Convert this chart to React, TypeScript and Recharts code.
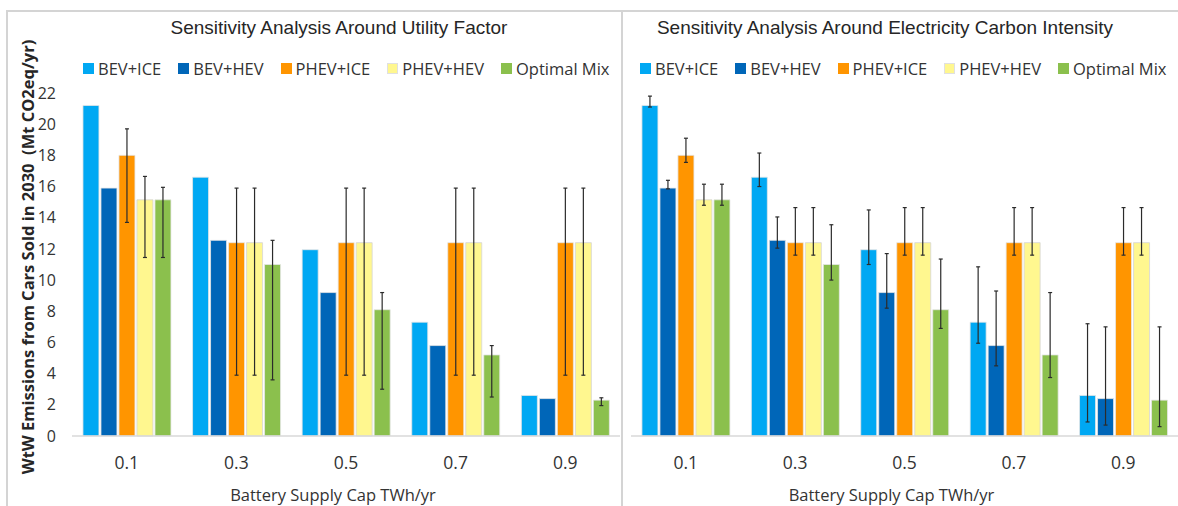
import React from "react";
import { BarChart, Bar, XAxis, YAxis, ErrorBar, Legend } from "recharts";

const categories = ["0.1", "0.3", "0.5", "0.7", "0.9"];
const yTicks = [0, 2, 4, 6, 8, 10, 12, 14, 16, 18, 20, 22];

// WtW emissions (Mt CO2eq/yr) per battery supply cap
const bevIce = [21.2, 16.6, 11.95, 7.3, 2.6];
const bevHev = [15.9, 12.55, 9.2, 5.8, 2.4];
const phevIce = [18.0, 12.4, 12.4, 12.4, 12.4];
const phevHev = [15.15, 12.4, 12.4, 12.4, 12.4];
const optimalMix = [15.15, 11.0, 8.1, 5.2, 2.3];

// utility factor ranges [low, high]
const ufPhevIce: [number, number][] = [[13.7, 19.7], [3.9, 15.9], [3.9, 15.9], [3.9, 15.9], [3.9, 15.9]];
const ufPhevHev: [number, number][] = [[11.45, 16.65], [3.9, 15.9], [3.9, 15.9], [3.9, 15.9], [3.9, 15.9]];
const ufOptimal: [number, number][] = [[11.45, 15.95], [3.6, 12.55], [3.0, 9.2], [2.5, 5.8], [1.95, 2.45]];

// electricity carbon intensity ranges [low, high]
const ciBevIce: [number, number][] = [[21.1, 21.8], [16.0, 18.15], [11.0, 14.5], [5.95, 10.85], [0.9, 7.2]];
const ciBevHev: [number, number][] = [[15.85, 16.4], [12.05, 14.05], [8.2, 11.7], [4.5, 9.3], [0.7, 7.0]];
const ciPhevIce: [number, number][] = [[17.55, 19.1], [11.6, 14.65], [11.6, 14.65], [11.6, 14.65], [11.6, 14.65]];
const ciPhevHev: [number, number][] = [[14.8, 16.15], [11.6, 14.65], [11.6, 14.65], [11.6, 14.65], [11.6, 14.65]];
const ciOptimal: [number, number][] = [[14.8, 16.15], [10.0, 13.55], [6.9, 11.35], [3.75, 9.2], [0.6, 7.0]];

const series = [
  { key: "bevIce", name: "BEV+ICE", color: "#00A8F3", values: bevIce },
  { key: "bevHev", name: "BEV+HEV", color: "#0066B8", values: bevHev },
  { key: "phevIce", name: "PHEV+ICE", color: "#FF9500", values: phevIce },
  { key: "phevHev", name: "PHEV+HEV", color: "#FFF78F", values: phevHev },
  { key: "optimal", name: "Optimal Mix", color: "#8BC04D", values: optimalMix },
];

type Ranges = Record<string, [number, number][] | undefined>;

const buildRows = (ranges: Ranges) =>
  categories.map((name, i) => {
    const row: Record<string, any> = { name };
    series.forEach((s) => {
      const v = s.values[i];
      row[s.key] = v;
      const r = ranges[s.key];
      if (r) row[s.key + "Err"] = [v - r[i][0], r[i][1] - v];
    });
    return row;
  });

const utilityRows = buildRows({ phevIce: ufPhevIce, phevHev: ufPhevHev, optimal: ufOptimal });
const carbonRows = buildRows({
  bevIce: ciBevIce,
  bevHev: ciBevHev,
  phevIce: ciPhevIce,
  phevHev: ciPhevHev,
  optimal: ciOptimal,
});

const textFont = "'Open Sans', sans-serif";
const textColor = "#333";

const renderLegend = () => (
  <div style={{ display: "flex", fontFamily: textFont, fontSize: 16.5, color: textColor, whiteSpace: "nowrap" }}>
    {series.map((s) => (
      <div key={s.key} style={{ display: "flex", alignItems: "center", marginRight: 17 }}>
        <span
          style={{
            display: "inline-block",
            width: 11,
            height: 11,
            background: s.color,
            marginRight: 4,
            boxSizing: "border-box",
            border: s.key === "phevHev" ? "1px solid #e0e0e0" : "none",
          }}
        />
        {s.name}
      </div>
    ))}
  </div>
);

interface PanelProps {
  rows: Record<string, any>[];
  width: number;
  left: number;
  showY: boolean;
  legendLeft: number;
}

const Panel: React.FC<PanelProps> = ({ rows, width, left, showY, legendLeft }) => (
  <BarChart
    width={width}
    height={506}
    data={rows}
    margin={{ top: 93, right: showY ? 1 : 0, bottom: 0, left: left }}
    barCategoryGap="10%"
    barGap={2}
  >
    <XAxis
      dataKey="name"
      height={70}
      tickLine={false}
      tickSize={0}
      tickMargin={21}
      axisLine={{ stroke: "#d9d9d9", strokeWidth: 1.5 }}
      tick={{ fontFamily: textFont, fontSize: 17.5, fill: textColor }}
      label={{
        value: "Battery Supply Cap TWh/yr",
        position: "insideBottom",
        offset: 5,
        dx: -13,
        style: { fontFamily: textFont, fontSize: 16.5, fill: textColor },
      }}
    />
    <YAxis
      domain={[0, 22]}
      ticks={yTicks}
      hide={!showY}
      width={72}
      axisLine={false}
      tickLine={false}
      tickMargin={10}
      tick={{ fontFamily: textFont, fontSize: 16, fill: textColor }}
    />
    <Legend
      layout="horizontal"
      verticalAlign="middle"
      content={renderLegend}
      wrapperStyle={{ top: 57, left: legendLeft, width: "auto" }}
    />
    {series.map((s) => (
      <Bar
        key={s.key}
        dataKey={s.key}
        name={s.name}
        fill={s.color}
        stroke={s.key === "phevHev" ? "#d6d6d6" : "#e6e6e6"}
        strokeWidth={0.8}
        isAnimationActive={false}
      >
        {rows[0][s.key + "Err"] !== undefined && (
          <ErrorBar dataKey={s.key + "Err"} width={2} stroke="#2b2b2b" strokeWidth={1.2} direction="y" />
        )}
      </Bar>
    ))}
  </BarChart>
);

const titleStyle: React.CSSProperties = {
  position: "absolute",
  top: 17,
  width: 600,
  textAlign: "center",
  fontFamily: "'Liberation Sans', Arial, sans-serif",
  fontSize: 19,
  lineHeight: "22px",
  color: "#262626",
  whiteSpace: "nowrap",
};

export default function App() {
  return (
    <div style={{ position: "absolute", left: 0, top: 0, width: 1178, height: 506, background: "#fff", overflow: "hidden" }}>
      {/* frame and divider */}
      <div style={{ position: "absolute", left: 6, top: 10, width: 1172, height: 496, borderTop: "2px solid #d4d4d4", borderLeft: "2px solid #d4d4d4" }} />
      <div style={{ position: "absolute", left: 621, top: 10, width: 2, height: 496, background: "#d4d4d4" }} />

      <div style={{ ...titleStyle, left: 339 - 300 }}>Sensitivity Analysis Around Utility Factor</div>
      <div style={{ ...titleStyle, left: 885 - 300 }}>Sensitivity Analysis Around Electricity Carbon Intensity</div>

      <div
        style={{
          position: "absolute",
          left: 27,
          top: 257,
          transform: "translate(-50%, -50%) rotate(-90deg)",
          fontFamily: textFont,
          fontWeight: 700,
          fontSize: 16.5,
          color: "#262626",
          whiteSpace: "nowrap",
        }}
      >
        WtW Emissions from Cars Sold in 2030&nbsp;&nbsp;(Mt CO2eq/yr)
      </div>

      <div style={{ position: "absolute", left: 0, top: 0 }}>
        <Panel rows={utilityRows} width={621} left={0} showY legendLeft={83} />
      </div>
      <div style={{ position: "absolute", left: 621, top: 0 }}>
        <Panel rows={carbonRows} width={557} left={10} showY={false} legendLeft={19} />
      </div>
    </div>
  );
}
